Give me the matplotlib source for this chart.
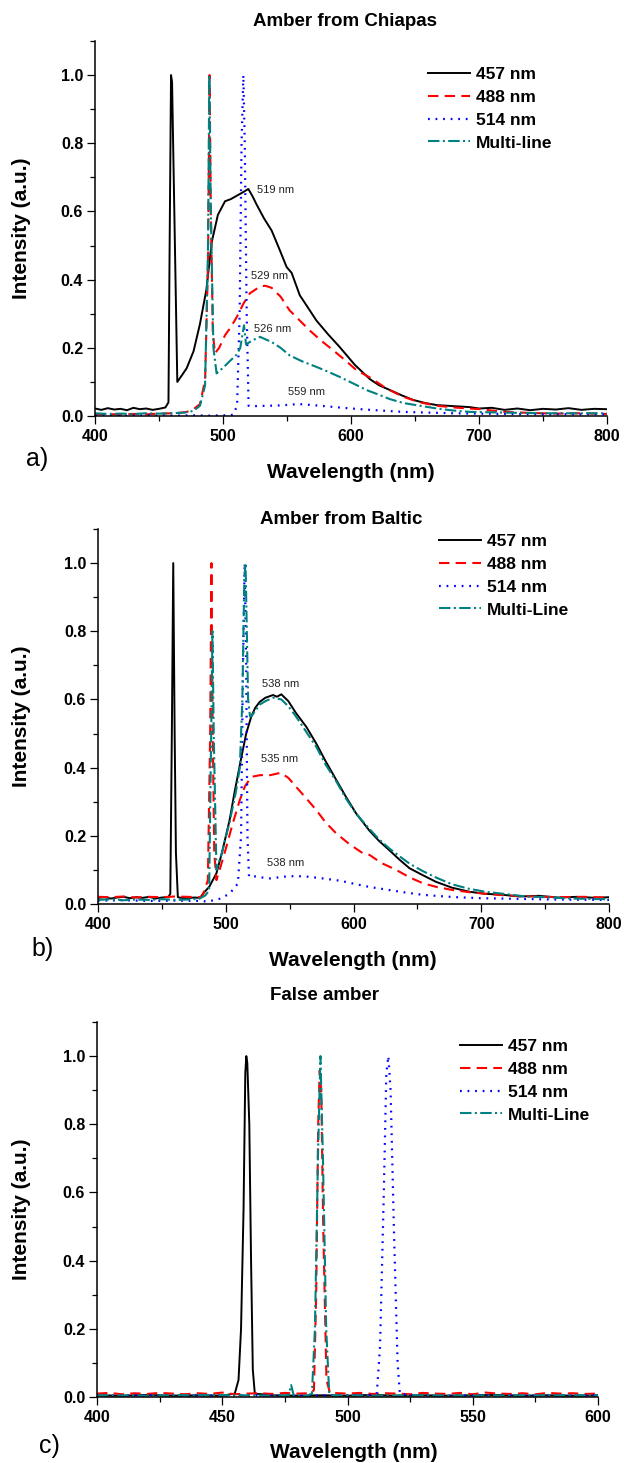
import matplotlib as mpl
mpl.use('Agg')
import matplotlib.pyplot as plt
from matplotlib.ticker import MultipleLocator

plt.rcParams['font.family'] = ['Liberation Sans', 'DejaVu Sans']

# ---------------- data ----------------
series_labels_a = ["457 nm", "488 nm", "514 nm", "Multi-line"]
series_labels_bc = ["457 nm", "488 nm", "514 nm", "Multi-Line"]
panel_titles = ["Amber from Chiapas", "Amber from Baltic", "False amber"]
panel_tags = ["a)", "b)", "c)"]

# a) Amber from Chiapas
a_457_wl = [400, 405, 410, 415, 420, 425, 430, 435, 440, 445, 450, 455, 457.4, 458.2, 459.4, 460.2, 464.3,
            468, 471.6, 477, 482, 487, 491.2, 496, 501.6, 506, 510.7, 515, 519.8, 523, 526.3, 532, 538, 544,
            549.7, 553.6, 560, 566, 573, 582, 591, 603, 614.8, 622, 630.5, 640, 648.7, 658, 667, 680, 693,
            700, 710, 720, 730, 740, 750, 760, 770, 780, 790, 800]
a_457_int = [0.022, 0.018, 0.023, 0.019, 0.021, 0.017, 0.024, 0.02, 0.022, 0.018, 0.021, 0.025, 0.04, 0.45,
             1.0, 0.98, 0.10, 0.12, 0.14, 0.19, 0.27, 0.37, 0.51, 0.59, 0.63, 0.636, 0.646, 0.655, 0.666,
             0.645, 0.62, 0.58, 0.544, 0.49, 0.437, 0.42, 0.354, 0.32, 0.28, 0.24, 0.203, 0.15, 0.108, 0.09,
             0.076, 0.06, 0.047, 0.038, 0.032, 0.029, 0.026, 0.022, 0.024, 0.018, 0.022, 0.017, 0.021,
             0.019, 0.023, 0.018, 0.021, 0.02]
a_488_wl = [400, 410, 420, 430, 440, 450, 460, 465, 471.6, 477, 482, 486, 488.3, 489.5, 490.5, 492, 493.7,
            497, 501.6, 506, 510.7, 516, 521, 529, 533, 538, 545, 552, 560, 568, 577, 586, 595, 604.4,
            614.8, 628, 640.9, 654, 667, 684, 700.8, 720, 740, 760, 780, 800]
a_488_int = [0.005, 0.006, 0.004, 0.006, 0.005, 0.007, 0.008, 0.009, 0.012, 0.02, 0.035, 0.105, 0.45, 1.0,
             0.6, 0.25, 0.184, 0.2, 0.237, 0.26, 0.29, 0.33, 0.36, 0.38, 0.382, 0.376, 0.35, 0.31, 0.28,
             0.25, 0.22, 0.193, 0.165, 0.134, 0.113, 0.08, 0.056, 0.04, 0.03, 0.024, 0.02, 0.012, 0.009,
             0.007, 0.008, 0.006]
a_514_wl = [400, 420, 440, 460, 480, 490, 500, 505, 508, 511, 513, 514.5, 515.9, 517, 518.5, 520, 525,
            535, 545, 559, 570, 585, 600, 615, 628, 641, 660, 680, 700, 720, 750, 800]
a_514_int = [0.002, 0.001, 0.002, 0.001, 0.002, 0.001, 0.002, 0.002, 0.004, 0.03, 0.3, 0.8, 1.0, 0.8,
             0.3, 0.03, 0.029, 0.03, 0.031, 0.035, 0.032, 0.027, 0.022, 0.018, 0.015, 0.012, 0.01,
             0.008, 0.007, 0.006, 0.005, 0.005]
a_ml_wl = [400, 410, 420, 430, 440, 450, 460, 470, 477, 482, 486, 488.3, 489.3, 490.5, 492.5, 495, 500.8,
           505, 510.7, 513.5, 516.4, 518, 523, 529, 538, 545, 552, 562, 573, 582, 591, 602, 612.2, 620,
           630, 641, 654, 667, 680, 693, 720, 750, 800]
a_ml_int = [0.008, 0.006, 0.007, 0.006, 0.008, 0.007, 0.008, 0.01, 0.015, 0.03, 0.09, 0.5, 1.0, 0.6, 0.2,
            0.125, 0.144, 0.16, 0.18, 0.2, 0.266, 0.21, 0.222, 0.232, 0.217, 0.2, 0.178, 0.16, 0.144,
            0.13, 0.115, 0.095, 0.076, 0.065, 0.05, 0.038, 0.03, 0.022, 0.016, 0.012, 0.01, 0.008, 0.008]
a_notes = ["519 nm", "529 nm", "526 nm", "559 nm"]

# b) Amber from Baltic
b_457_wl = [400, 405, 410, 415, 420, 425, 430, 435, 440, 445, 450, 455, 456.6, 457.8, 458.9, 460, 461,
            462.5, 465, 470, 475, 480, 482.3, 487, 492.7, 497, 503, 507, 512.2, 516, 520, 523, 526.6, 531,
            537, 540, 543.5, 549, 555, 563, 570.8, 578, 586.5, 594, 602, 612.5, 620, 628, 636, 643.8, 654,
            664.6, 677, 690.6, 703, 716.6, 730, 745, 760, 775, 790, 800]
b_457_int = [0.018, 0.02, 0.016, 0.019, 0.021, 0.017, 0.02, 0.018, 0.021, 0.016, 0.019, 0.02, 0.03, 0.5,
             1.0, 0.5, 0.15, 0.02, 0.018, 0.017, 0.019, 0.018, 0.031, 0.05, 0.09, 0.15, 0.246, 0.33, 0.43,
             0.5, 0.55, 0.575, 0.593, 0.605, 0.613, 0.608, 0.615, 0.595, 0.56, 0.52, 0.471, 0.42, 0.364,
             0.315, 0.266, 0.215, 0.185, 0.158, 0.13, 0.105, 0.085, 0.065, 0.048, 0.036, 0.03, 0.027,
             0.022, 0.024, 0.019, 0.021, 0.018, 0.02]
b_488_wl = [400, 410, 420, 430, 440, 450, 460, 470, 480, 482, 486, 487.8, 488.8, 489.8, 491, 492.7, 496,
            500.5, 505, 511, 515, 520, 527, 535, 543, 549, 555, 563, 570.8, 578, 586.5, 597, 607.3, 612.5,
            622, 633.4, 644, 654.2, 665, 677.6, 690, 703.6, 720, 740, 760, 780, 800]
b_488_int = [0.021, 0.02, 0.022, 0.019, 0.021, 0.02, 0.022, 0.021, 0.02, 0.025, 0.07, 0.5, 1.0, 0.5, 0.15,
             0.07, 0.11, 0.168, 0.23, 0.305, 0.345, 0.373, 0.378, 0.378, 0.385, 0.37, 0.344, 0.31, 0.276,
             0.24, 0.207, 0.175, 0.149, 0.144, 0.12, 0.1, 0.078, 0.061, 0.05, 0.041, 0.035, 0.03, 0.025,
             0.022, 0.02, 0.021, 0.019]
b_514_wl = [400, 420, 440, 460, 480, 486, 495, 503, 509.5, 512, 513.5, 514.8, 516, 517, 518.2, 521, 528,
            535, 545, 555, 565, 576, 590, 602, 612.5, 628, 640, 654, 668, 680, 700, 730, 760, 800]
b_514_int = [0.01, 0.011, 0.009, 0.01, 0.009, 0.007, 0.015, 0.03, 0.06, 0.2, 0.7, 1.0, 0.7, 0.2, 0.08,
             0.082, 0.078, 0.075, 0.08, 0.082, 0.08, 0.075, 0.068, 0.058, 0.05, 0.041, 0.034, 0.027,
             0.023, 0.02, 0.017, 0.015, 0.013, 0.012]
b_ml_wl = [400, 410, 420, 430, 440, 450, 460, 470, 479, 484, 487, 488.6, 489.6, 490.6, 492.7, 497, 503,
           508, 511, 513, 514.5, 515.5, 516.5, 517.5, 519, 520, 526.6, 531, 537, 543.5, 549, 555, 563, 571,
           578, 586.5, 594, 602, 612.5, 620, 628, 636, 644, 654, 665, 677, 690, 703, 717, 735, 750, 770,
           785, 800]
b_ml_int = [0.012, 0.014, 0.011, 0.013, 0.012, 0.014, 0.012, 0.013, 0.015, 0.025, 0.04, 0.5, 0.8, 0.5,
            0.1, 0.15, 0.24, 0.33, 0.4, 0.6, 0.95, 1.0, 0.8, 0.6, 0.55, 0.55, 0.585, 0.595, 0.605, 0.6,
            0.58, 0.55, 0.505, 0.46, 0.41, 0.36, 0.31, 0.265, 0.22, 0.19, 0.163, 0.14, 0.118, 0.097,
            0.077, 0.058, 0.045, 0.036, 0.03, 0.022, 0.02, 0.016, 0.015, 0.014]
b_notes = ["538 nm", "535 nm", "538 nm"]

# c) False amber
c_457_wl = [400, 410, 420, 430, 440, 450, 455, 456.5, 457.5, 458.5, 459.2, 459.6, 460, 460.8, 461.5,
            462.2, 463, 470, 480, 490, 500, 510, 520, 530, 540, 550, 560, 570, 580, 590, 600]
c_457_int = [0.005, 0.004, 0.006, 0.004, 0.005, 0.004, 0.01, 0.05, 0.2, 0.55, 0.95, 1.0, 0.98, 0.8, 0.4,
             0.08, 0.01, 0.005, 0.004, 0.005, 0.004, 0.006, 0.004, 0.005, 0.004, 0.005, 0.006, 0.004,
             0.005, 0.004, 0.005]
c_488_wl = [400, 405, 410, 415, 420, 425, 430, 435, 440, 445, 450, 455, 460, 465, 470, 475, 480, 485,
            486.6, 487.5, 488.3, 488.9, 489.5, 490.3, 491.6, 493, 500, 505, 510, 515, 520, 525, 530, 535,
            540, 545, 550, 555, 560, 565, 570, 575, 580, 585, 590, 595, 600]
c_488_int = [0.01, 0.012, 0.008, 0.011, 0.009, 0.012, 0.01, 0.008, 0.011, 0.009, 0.013, 0.008, 0.01,
             0.011, 0.009, 0.012, 0.01, 0.011, 0.02, 0.3, 0.8, 0.958, 0.9, 0.5, 0.05, 0.012, 0.01, 0.012,
             0.009, 0.011, 0.01, 0.008, 0.012, 0.01, 0.009, 0.012, 0.008, 0.013, 0.01, 0.009, 0.011,
             0.008, 0.012, 0.01, 0.011, 0.009, 0.01]
c_514_wl = [400, 420, 440, 460, 480, 500, 508, 511.7, 513, 514.5, 515.5, 516.3, 517.2, 518.5, 520, 520.9,
            525, 540, 560, 580, 600]
c_514_int = [0.004, 0.005, 0.004, 0.005, 0.004, 0.005, 0.005, 0.01, 0.15, 0.6, 0.95, 1.0, 0.9, 0.5, 0.1,
             0.01, 0.005, 0.004, 0.005, 0.004, 0.005]
c_ml_wl = [400, 420, 440, 460, 470, 476.5, 477.5, 478.5, 484, 485.8, 487, 488.2, 489.2, 490.2, 491.5,
           492.7, 494, 510, 530, 550, 570, 600]
c_ml_int = [0.005, 0.004, 0.006, 0.005, 0.004, 0.005, 0.035, 0.005, 0.004, 0.01, 0.2, 0.7, 1.0, 0.7, 0.2,
            0.01, 0.005, 0.004, 0.005, 0.004, 0.005, 0.005]

# ---------------- figure ----------------
W, H = 624, 1463
fig = plt.figure(figsize=(W / 100, H / 100), dpi=100)


def rect(left, top, right, bottom):
    # pixel box -> figure fraction
    return [left / W, 1 - bottom / H, (right - left) / W, (bottom - top) / H]


styles = [
    dict(color='black', lw=1.4, ls='-'),
    dict(color='#ff0000', lw=1.5, ls=(0, (5, 3))),
    dict(color='#0000ff', lw=1.6, ls=(0, (0.8, 2.6))),
    dict(color='#008080', lw=1.5, ls=(0, (5.5, 1.6, 1.0, 1.6))),
]


def make_panel(box, xlim, xmaj, xmin, data, labels, title, title_xy, xlab_xy, tag, tag_xy, leg_xy):
    ax = fig.add_axes(rect(*box))
    for (wl, inten), lab, st in zip(data, labels, styles):
        ax.plot(wl, inten, label=lab, **st)
    ax.set_xlim(*xlim)
    ax.set_ylim(0, 1.1)
    ax.xaxis.set_major_locator(MultipleLocator(xmaj))
    ax.xaxis.set_minor_locator(MultipleLocator(xmin))
    ax.yaxis.set_major_locator(MultipleLocator(0.2))
    ax.yaxis.set_minor_locator(MultipleLocator(0.1))
    ax.yaxis.set_major_formatter(mpl.ticker.FormatStrFormatter('%.1f'))
    ax.spines['top'].set_visible(False)
    ax.spines['right'].set_visible(False)
    for s in ('left', 'bottom'):
        ax.spines[s].set_linewidth(1.1)
    ax.tick_params(which='major', direction='out', length=5.5, width=0.9, labelsize=11.5)
    ax.tick_params(which='minor', direction='out', length=3.5, width=0.9)
    ax.tick_params(axis='x', pad=4)
    ax.tick_params(axis='y', pad=3)
    for t in ax.get_xticklabels() + ax.get_yticklabels():
        t.set_fontweight('bold')

    top, bottom = box[1], box[3]
    fig.text(title_xy[0] / W, 1 - title_xy[1] / H, title, ha='center', va='center',
             fontsize=13.5, fontweight='bold')
    fig.text(xlab_xy[0] / W, 1 - xlab_xy[1] / H, "Wavelength (nm)", ha='center', va='center',
             fontsize=15, fontweight='bold')
    fig.text(22 / W, 1 - (top + bottom) / 2 / H, "Intensity (a.u.)", ha='center', va='center',
             rotation=90, fontsize=15, fontweight='bold')
    fig.text(tag_xy[0] / W, 1 - tag_xy[1] / H, tag, fontsize=18, ha='left', va='center')
    ax.legend(loc='upper left', bbox_to_anchor=(leg_xy[0] / W, 1 - leg_xy[1] / H),
              bbox_transform=fig.transFigure, frameon=False, borderaxespad=0, borderpad=0,
              handlelength=2.4, handletextpad=0.35, labelspacing=0.44,
              prop={'size': 12.5, 'weight': 'bold'})
    return ax


ax_a = make_panel((95, 41, 607, 416), (400, 800), 100, 50,
                  [(a_457_wl, a_457_int), (a_488_wl, a_488_int), (a_514_wl, a_514_int), (a_ml_wl, a_ml_int)],
                  series_labels_a, panel_titles[0], (345, 22), (351, 472),
                  panel_tags[0], (26, 459), (428, 67))
ax_b = make_panel((98, 529, 609, 904), (400, 800), 100, 50,
                  [(b_457_wl, b_457_int), (b_488_wl, b_488_int), (b_514_wl, b_514_int), (b_ml_wl, b_ml_int)],
                  series_labels_bc, panel_titles[1], (341, 519), (353, 960),
                  panel_tags[1], (31, 949), (439, 534))
ax_c = make_panel((97, 1022, 598, 1397), (400, 600), 50, 25,
                  [(c_457_wl, c_457_int), (c_488_wl, c_488_int), (c_514_wl, c_514_int), (c_ml_wl, c_ml_int)],
                  series_labels_bc, panel_titles[2], (325, 995), (354, 1453),
                  panel_tags[2], (39, 1446), (460, 1039))

# peak annotations
for ax, notes, pos in [(ax_a, a_notes, [(526.3, 0.663), (521.6, 0.41), (524.5, 0.255), (551, 0.07)]),
                       (ax_b, b_notes, [(528.4, 0.646), (527.6, 0.424), (532.6, 0.121)])]:
    for txt, (x, y) in zip(notes, pos):
        ax.text(x, y, txt, fontsize=8, ha='left', va='center', color='#222222')

fig.savefig("out.png", dpi=100)
